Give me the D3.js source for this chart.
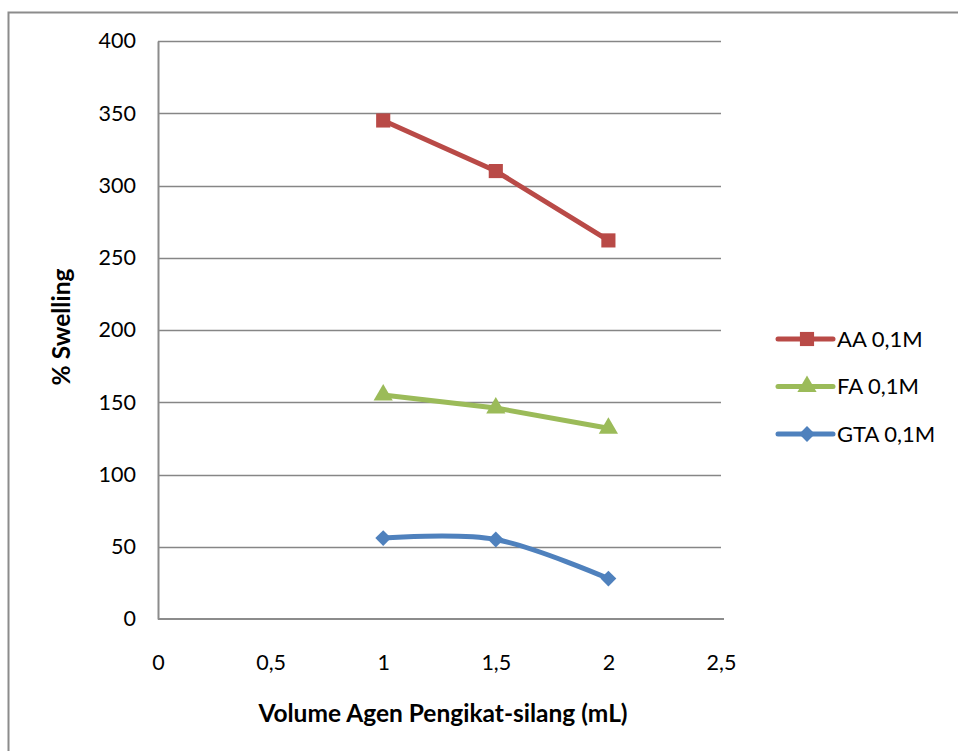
<!DOCTYPE html>
<html>
<head>
<meta charset="utf-8">
<script src="https://cdn.jsdelivr.net/npm/d3@7"></script>
<style>
  body { margin: 0; background: #fff; }
  text { font-family: Lato, "Open Sans", sans-serif; fill: #000; }
</style>
</head>
<body>
<script>
// data
var volumes = [1, 1.5, 2];
var aa  = [345, 310, 262];
var fa  = [155, 146, 132];
var gta = [56, 55, 28];
var seriesNames = ['AA 0,1M', 'FA 0,1M', 'GTA 0,1M'];
var yTicks = [0, 50, 100, 150, 200, 250, 300, 350, 400];
var xTicks = [0, 0.5, 1, 1.5, 2, 2.5];

var WIDTH = 958, HEIGHT = 751;

var svg = d3.select('body').append('svg')
  .attr('width', WIDTH)
  .attr('height', HEIGHT);

// chart frame (only top and left visible)
svg.append('path')
  .attr('d', 'M8.5,' + HEIGHT + 'V12.5H' + WIDTH)
  .attr('fill', 'none')
  .attr('stroke', '#8c8c8c')
  .attr('stroke-width', 2);

var x = d3.scaleLinear().domain([0, 2.5]).range([158, 721]);
var y = d3.scaleLinear().domain([0, 400]).range([619, 41]);

// gridlines
svg.append('g').selectAll('line')
  .data(yTicks.slice(1))
  .enter().append('line')
  .attr('x1', x(0)).attr('x2', x(2.5))
  .attr('y1', function(d) { return Math.round(y(d)) + 0.5; })
  .attr('y2', function(d) { return Math.round(y(d)) + 0.5; })
  .attr('stroke', '#868686')
  .attr('stroke-width', 1.3);

// axes
var yAxis = svg.append('g')
  .attr('transform', 'translate(' + x(0) + ',0)')
  .call(d3.axisLeft(y).tickValues(yTicks).tickSize(0).tickPadding(22));
var xAxis = svg.append('g')
  .attr('transform', 'translate(0,' + y(0) + ')')
  .call(d3.axisBottom(x).tickValues(xTicks).tickSize(0).tickPadding(34)
    .tickFormat(function(d) { return String(d).replace('.', ','); }));

[yAxis, xAxis].forEach(function(g) {
  g.select('.domain').attr('stroke', '#8c8c8c').attr('stroke-width', 2);
  g.selectAll('text').style('font-size', '21.5px').attr('fill', '#000');
});
xAxis.select('.domain').attr('d', 'M' + x(0) + ',0H' + (x(2.5) + 3));
xAxis.selectAll('text').attr('y', 51).attr('dy', 0);

// axis titles
svg.append('text')
  .attr('transform', 'translate(70,' + 327 + ') rotate(-90)')
  .attr('text-anchor', 'middle')
  .style('font-size', '24.5px')
  .style('font-weight', 'bold')
  .text('% Swelling');

svg.append('text')
  .attr('x', 443).attr('y', 722)
  .attr('text-anchor', 'middle')
  .style('font-size', '24.5px')
  .style('font-weight', 'bold')
  .text('Volume Agen Pengikat-silang (mL)');

// series (diamond = square turned 45deg, like Excel)
var series = [
  { name: seriesNames[0], values: aa,  color: '#b94a47', marker: d3.symbolSquare,   size: 200, rot: 0,  curve: d3.curveLinear },
  { name: seriesNames[1], values: fa,  color: '#9bbb59', marker: d3.symbolTriangle, size: 160, rot: 0,  curve: d3.curveLinear },
  { name: seriesNames[2], values: gta, color: '#4f81bd', marker: d3.symbolSquare,   size: 125, rot: 45, curve: d3.curveCatmullRom.alpha(0) }
];

series.forEach(function(s) {
  var pts = volumes.map(function(v, i) { return [v, s.values[i]]; });
  var line = d3.line()
    .x(function(d) { return x(d[0]); })
    .y(function(d) { return y(d[1]); })
    .curve(s.curve);
  svg.append('path')
    .attr('d', line(pts))
    .attr('fill', 'none')
    .attr('stroke', s.color)
    .attr('stroke-width', 5)
    .attr('stroke-linejoin', 'round');
  svg.append('g').selectAll('path')
    .data(pts)
    .enter().append('path')
    .attr('transform', function(d) {
      return 'translate(' + x(d[0]) + ',' + y(d[1]) + ') rotate(' + s.rot + ')';
    })
    .attr('d', d3.symbol().type(s.marker).size(s.size))
    .attr('fill', s.color);
});

// legend
var legend = svg.append('g').selectAll('g')
  .data(series)
  .enter().append('g')
  .attr('transform', function(d, i) { return 'translate(778,' + (339 + i * 47.5) + ')'; });
legend.append('line')
  .attr('x1', 0).attr('x2', 55)
  .attr('stroke', function(d) { return d.color; })
  .attr('stroke-width', 5)
  .attr('stroke-linecap', 'round');
legend.append('path')
  .attr('transform', function(d) { return 'translate(29,0) rotate(' + d.rot + ')'; })
  .attr('d', function(d) { return d3.symbol().type(d.marker).size(d.size)(); })
  .attr('fill', function(d) { return d.color; });
legend.append('text')
  .attr('x', 59).attr('dy', '0.35em')
  .style('font-size', '22px')
  .text(function(d) { return d.name; });
</script>
</body>
</html>
